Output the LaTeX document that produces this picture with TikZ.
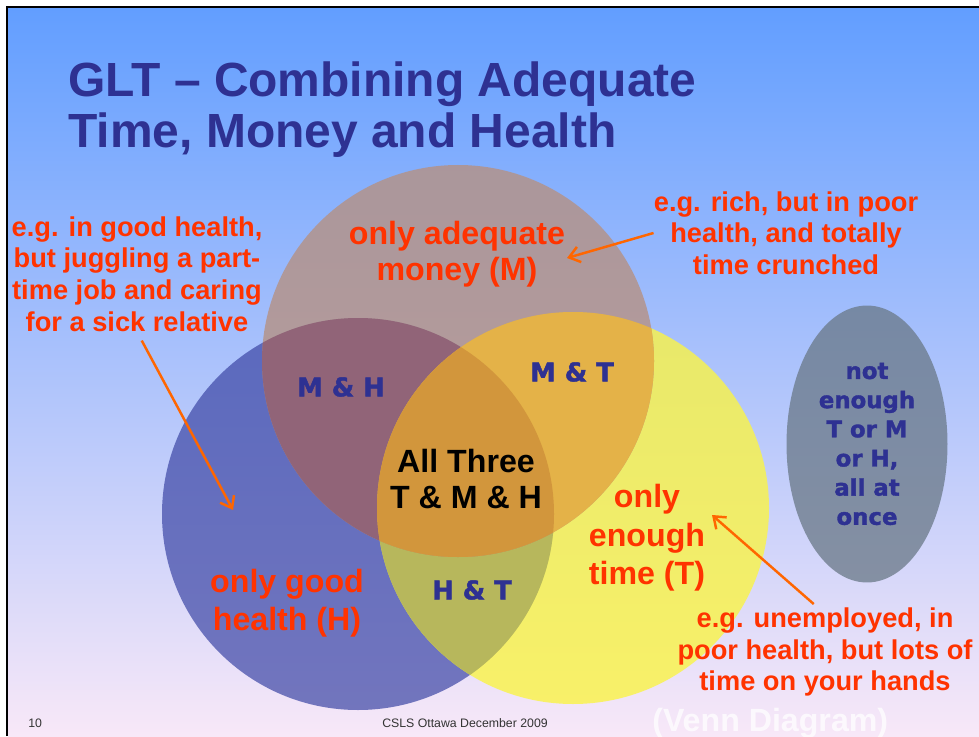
\documentclass[tikz,border=0pt]{standalone}
\usepackage{fontspec}
\setmainfont{Liberation Sans}
\newfontfamily\heavyfont{DejaVu Sans}[BoldFeatures={FakeBold=1.6}]
\usetikzlibrary{arrows.meta,shapes.geometric}

\definecolor{slidetop}{RGB}{98,158,255}
\definecolor{slidemid}{RGB}{165,195,245}
\definecolor{slidebot}{RGB}{248,232,248}
\definecolor{titleblue}{RGB}{46,49,146}
\definecolor{notered}{RGB}{255,51,0}
\definecolor{arroworange}{RGB}{255,102,0}
\definecolor{moneyfill}{RGB}{181,145,131}
\definecolor{healthfill}{RGB}{60,70,165}
\definecolor{timefill}{RGB}{250,244,70}
\definecolor{mhfill}{RGB}{145,100,120}
\definecolor{mtfill}{RGB}{228,178,72}
\definecolor{htfill}{RGB}{183,183,92}
\definecolor{allfill}{RGB}{210,150,60}
\definecolor{nonefill}{RGB}{105,120,135}

\begin{document}
\begin{tikzpicture}[
    x=0.02cm, y=-0.02cm,
    every node/.style={inner sep=0pt, font=\bfseries},
    heading/.style={text=titleblue, align=left, anchor=north west,
                    font=\fontsize{27.3}{29.5}\selectfont\bfseries},
    region/.style={text=notered, align=center,
                   font=\fontsize{18.3}{20.5}\selectfont\bfseries},
    overlap/.style={text=titleblue, font=\heavyfont\bfseries\fontsize{14.7}{16}\selectfont},
    note/.style={text=notered, align=center,
                 font=\fontsize{15.5}{18}\selectfont\bfseries},
    pointer/.style={draw=arroworange, line width=1.4pt,
                    -{Straight Barb[length=6pt,width=9pt]}},
    footer/.style={text=black!80, font=\fontsize{7}{8}\selectfont},
    set/.style={fill opacity=0.8},
]
\useasboundingbox (0,0) rectangle (979,736);

%% Slide background and frame
\fill[white] (0,0) rectangle (979,736);
\shade[top color=slidetop, middle color=slidemid, bottom color=slidebot]
    (8,8) rectangle (979,736);
\draw[line width=1.2pt] (7,736) -- (7,7) -- (979,7);

\node[heading] (title) at (68,61) {GLT – Combining Adequate\\Time, Money and Health};

%% The three sets
\coordinate (M) at (458,361);
\coordinate (H) at (358,514);
\coordinate (T) at (573,508);
\fill[healthfill, fill opacity=0.7] (H) circle[radius=196];
\fill[timefill, set] (T) circle[radius=196];
\fill[moneyfill, set] (M) circle[radius=196];

%% Overlaps
\begin{scope}
  \clip (H) circle[radius=196];
  \fill[htfill] (T) circle[radius=196];
\end{scope}
\begin{scope}
  \clip (M) circle[radius=196];
  \fill[mhfill] (H) circle[radius=196];
  \fill[mtfill] (T) circle[radius=196];
  \clip (H) circle[radius=196];
  \fill[allfill] (T) circle[radius=196];
\end{scope}

%% Region labels
\node[region] (moneylbl)  at (457,254) {only adequate\\money (M)};
\node[region, font=\fontsize{18.3}{21.5}\selectfont\bfseries]
              (healthlbl) at (287,603) {only good\\health (H)};
\node[region, font=\fontsize{18.3}{22}\selectfont\bfseries]
              (timelbl)   at (647,538) {only\\enough\\time (T)};
\node[region, text=black] (alllbl) at (466,479) {All Three\\T \& M \& H};
\node[overlap] (mhlbl) at (341,387) {M \& H};
\node[overlap] (mtlbl) at (572,372) {M \& T};
\node[overlap] (htlbl) at (472,590) {H \& T};

%% Outside all three sets
\node[ellipse, fill=nonefill, fill opacity=0.75, text opacity=1,
      minimum width=3.22cm, minimum height=5.54cm,
      text=titleblue, align=center,
      font=\heavyfont\bfseries\fontsize{13}{16.6}\selectfont]
    (nonelbl) at (867,444) {not\\enough\\T or M\\or H,\\all at\\once};

%% Examples
\node[note] (goodnote) at (137,274) {e.g. in good health,\\but juggling a part-\\time job and caring\\for a sick relative};
\node[note] (richnote) at (786,233) {e.g. rich, but in poor\\health, and totally\\time crunched};
\node[note] (jobnote)  at (825,652) {e.g. unemployed, in\\poor health, but lots of\\time on your hands};

\coordinate (richtip) at (567,258);
\coordinate (goodtip) at (233,510);
\coordinate (jobtip)  at (712,515);
\draw[pointer] (richnote.west) -- (richtip);
\draw[pointer, shorten <=0.2cm] (goodnote.south) -- (goodtip);
\draw[pointer, shorten <=0.1cm] ([xshift=-0.15cm]jobnote.north) -- (jobtip);

%% Footer
\node[footer, anchor=base west] (pageno) at (28,727) {10};
\node[footer, anchor=base] (venue) at (465,727) {CSLS Ottawa December 2009};
\node[region, text=white, text opacity=0.75, anchor=base west]
    (kind) at (652,731) {(Venn Diagram)};

\end{tikzpicture}
\end{document}
